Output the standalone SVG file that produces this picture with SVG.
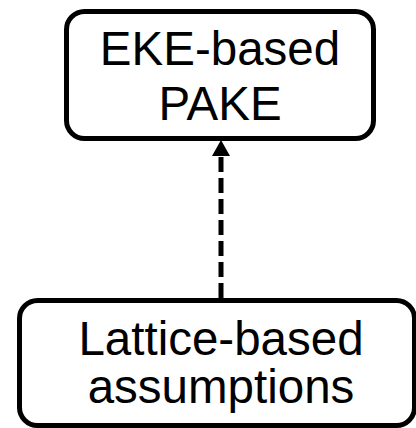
<svg xmlns="http://www.w3.org/2000/svg" width="416" height="428" viewBox="0 0 416 428">
  <style>
    .box { fill: #ffffff; stroke: #000000; stroke-width: 5; }
    .label { font-family: "Liberation Sans", Arial, sans-serif; font-size: 47.5px; fill: #000000; text-anchor: middle; }
    .link { stroke: #000000; stroke-width: 5; stroke-dasharray: 15 6; fill: none; }
    .head { fill: #000000; }
  </style>
  <g id="connectors">
    <!-- dashed dependency: lattice assumptions -> EKE-based PAKE -->
    <line class="link" x1="221" y1="298" x2="221" y2="156"/>
    <path class="head" d="M212,156 L221,140 L230,156 Z"/>
  </g>
  <g id="node-eke-pake">
    <rect class="box" x="66.5" y="11.5" width="307" height="127" rx="18" ry="18"/>
    <text class="label" x="220" y="65">EKE-based</text>
    <text class="label" x="220" y="120">PAKE</text>
  </g>
  <g id="node-lattice">
    <rect class="box" x="19.5" y="300.5" width="395" height="125" rx="18" ry="18"/>
    <text class="label" x="221" y="355">Lattice-based</text>
    <text class="label" x="221" y="403">assumptions</text>
  </g>
</svg>
